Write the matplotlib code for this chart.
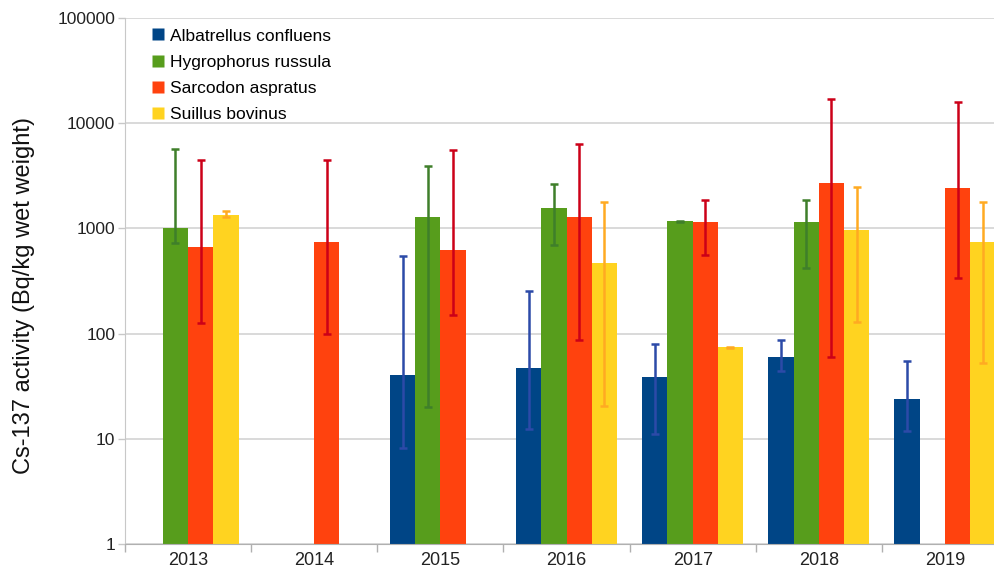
import numpy as np
import matplotlib
matplotlib.use("Agg")
import matplotlib.pyplot as plt
from matplotlib.ticker import FixedLocator, NullFormatter, FuncFormatter
from matplotlib.lines import Line2D

plt.rcParams['font.family'] = ['Liberation Sans', 'DejaVu Sans']

years = ["2013", "2014", "2015", "2016", "2017", "2018", "2019"]
species = ["Albatrellus confluens", "Hygrophorus russula",
           "Sarcodon aspratus", "Suillus bovinus"]

nan = np.nan
# Mean Cs-137 activity per species and year (Bq/kg wet weight)
albatrellus = [nan, nan, 40, 47, 39, 60, 24]
hygrophorus = [1000, nan, 1290, 1570, 1170, 1140, nan]
sarcodon = [665, 740, 623, 1275, 1140, 2720, 2440]
suillus = [1340, nan, nan, 466, 74, 970, 743]

# Range (min / max) for each mean
albatrellus_lo = [nan, nan, 8.1, 12.3, 11.1, 44, 11.9]
albatrellus_hi = [nan, nan, 550, 256, 80, 86, 54.5]
hygrophorus_lo = [722, nan, 19.9, 695, 1160, 423, nan]
hygrophorus_hi = [5690, nan, 3920, 2640, 1180, 1860, nan]
sarcodon_lo = [127, 100, 150, 87, 559, 60, 336]
sarcodon_hi = [4500, 4500, 5560, 6340, 1860, 17000, 15800]
suillus_lo = [1275, nan, nan, 20.6, 73, 128, 53]
suillus_hi = [1463, nan, nan, 1795, 75, 2460, 1795]

means = [albatrellus, hygrophorus, sarcodon, suillus]
lows = [albatrellus_lo, hygrophorus_lo, sarcodon_lo, suillus_lo]
highs = [albatrellus_hi, hygrophorus_hi, sarcodon_hi, suillus_hi]
bar_colors = ["#004586", "#579d1c", "#ff420e", "#ffd320"]
err_colors = ["#2c4aa8", "#3f7f2a", "#cc0018", "#ffaa22"]

fig = plt.figure(figsize=(9.95, 5.69), dpi=100)
ax = fig.add_axes([125 / 995, 25 / 569, 883 / 995, 526 / 569])

x = np.arange(len(years))
w = 0.2
for i in range(4):
    v = np.array(means[i], dtype=float)
    lo = np.array(lows[i], dtype=float)
    hi = np.array(highs[i], dtype=float)
    pos = x + (i - 1.5) * w
    ax.bar(pos, v, width=w, color=bar_colors[i], edgecolor='none',
           zorder=2, label=species[i])
    ax.errorbar(pos, v, yerr=[v - lo, hi - v], fmt='none',
                ecolor=err_colors[i], elinewidth=1.8, capsize=3,
                capthick=1.8, zorder=3)

ax.set_yscale('log')
ax.set_ylim(1, 100000)
ax.set_xlim(-0.5, len(years) - 0.5)
ax.yaxis.set_major_locator(FixedLocator([1, 10, 100, 1000, 10000, 100000]))
ax.yaxis.set_minor_locator(FixedLocator([]))
ax.yaxis.set_major_formatter(FuncFormatter(lambda v, p: f"{int(round(v))}"))
ax.yaxis.grid(True, color="#d3d3d3", linewidth=1.2, zorder=0)
ax.set_axisbelow(True)

ax.set_xticks(x)
ax.set_xticklabels(years)
ax.xaxis.set_minor_locator(FixedLocator(np.arange(-0.5, len(years), 1.0)))
ax.xaxis.set_minor_formatter(NullFormatter())
ax.tick_params(axis='x', which='major', length=0, labelsize=13, pad=6,
               labelcolor="#222222")
ax.tick_params(axis='x', which='minor', length=6, color="#b0b0b0", width=1)
ax.tick_params(axis='y', which='major', length=5, color="#c8c8c8", width=1,
               labelsize=12.5, labelcolor="#222222", pad=2)

for s in ['top', 'right']:
    ax.spines[s].set_visible(False)
ax.spines['left'].set_color("#c8c8c8")
ax.spines['bottom'].set_color("#b0b0b0")

ax.set_ylabel("Cs-137 activity (Bq/kg wet weight)", fontsize=17,
              color="#111111")
ax.yaxis.set_label_coords(-0.102, 0.4715)

handles = [Line2D([0], [0], marker='s', linestyle='none', markersize=8.5,
                  markerfacecolor=c, markeredgecolor='none') for c in bar_colors]
ax.legend(handles, species, loc='upper left', bbox_to_anchor=(0.008, 1.010),
          frameon=False, fontsize=12.5, handletextpad=0.1, labelspacing=0.64,
          borderaxespad=0.5, handlelength=1.2)

fig.savefig("out.png", dpi=100)
